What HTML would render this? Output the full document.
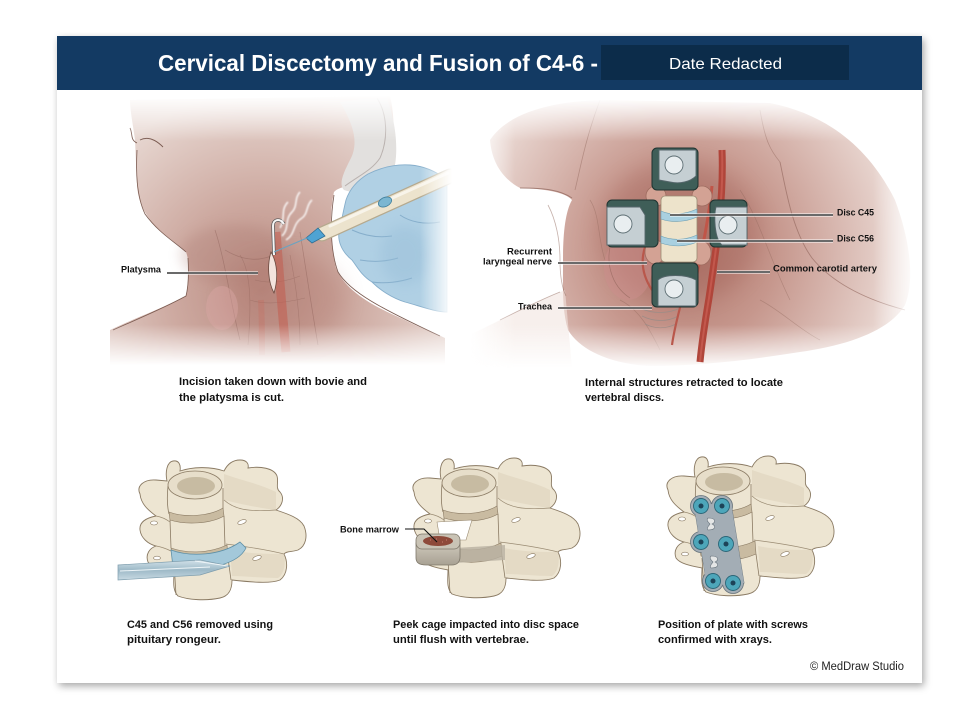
<!DOCTYPE html>
<html><head><meta charset="utf-8"><style>
html,body{margin:0;padding:0;background:#fff;}
svg{display:block;}
text{font-family:"Liberation Sans",Arial,sans-serif;}
</style></head><body>
<svg width="979" height="720" viewBox="0 0 979 720" xmlns="http://www.w3.org/2000/svg">
<defs>
 <filter id="sh" x="-5%" y="-5%" width="110%" height="112%">
  <feDropShadow dx="2" dy="3" stdDeviation="4" flood-color="#000" flood-opacity="0.35"/>
 </filter>
 <filter id="b1"><feGaussianBlur stdDeviation="0.8"/></filter>
 <filter id="b6" x="-30%" y="-30%" width="160%" height="160%"><feGaussianBlur stdDeviation="6"/></filter>
 <filter id="b10" x="-40%" y="-40%" width="180%" height="180%"><feGaussianBlur stdDeviation="10"/></filter>
 <radialGradient id="sk1" gradientUnits="userSpaceOnUse" cx="262" cy="290" r="200">
  <stop offset="0" stop-color="#B98A80"/>
  <stop offset="0.45" stop-color="#CDA9A0"/>
  <stop offset="1" stop-color="#E7D7D1"/>
 </radialGradient>
 <radialGradient id="sk2" gradientUnits="userSpaceOnUse" cx="685" cy="250" r="230">
  <stop offset="0" stop-color="#AD7266"/>
  <stop offset="0.4" stop-color="#C6978D"/>
  <stop offset="1" stop-color="#EEE0DB"/>
 </radialGradient>
 <linearGradient id="fv1" gradientUnits="userSpaceOnUse" x1="0" y1="95" x2="0" y2="365">
  <stop offset="0" stop-color="#000"/><stop offset="0.17" stop-color="#fff"/>
  <stop offset="0.85" stop-color="#fff"/><stop offset="1" stop-color="#000"/>
 </linearGradient>
 <linearGradient id="fv2" gradientUnits="userSpaceOnUse" x1="0" y1="98" x2="0" y2="368">
  <stop offset="0" stop-color="#000"/><stop offset="0.16" stop-color="#fff"/>
  <stop offset="0.84" stop-color="#fff"/><stop offset="1" stop-color="#000"/>
 </linearGradient>
 <linearGradient id="fh1" gradientUnits="userSpaceOnUse" x1="420" y1="0" x2="452" y2="0">
  <stop offset="0" stop-color="#fff"/><stop offset="1" stop-color="#000"/>
 </linearGradient>
 <linearGradient id="fh2" gradientUnits="userSpaceOnUse" x1="470" y1="0" x2="918" y2="0">
  <stop offset="0" stop-color="#000"/><stop offset="0.1" stop-color="#fff"/>
  <stop offset="0.9" stop-color="#fff"/><stop offset="1" stop-color="#000"/>
 </linearGradient>
 <mask id="m1" maskUnits="userSpaceOnUse" x="90" y="90" width="380" height="290">
  <rect x="90" y="90" width="380" height="290" fill="url(#fv1)"/>
 </mask>
 <mask id="m2" maskUnits="userSpaceOnUse" x="460" y="90" width="470" height="290">
  <rect x="460" y="90" width="470" height="290" fill="url(#fv2)"/>
 </mask>
 <mask id="m2h" maskUnits="userSpaceOnUse" x="460" y="90" width="470" height="290">
  <rect x="460" y="90" width="470" height="290" fill="url(#fh2)"/>
 </mask>
 <mask id="mg" maskUnits="userSpaceOnUse" x="300" y="150" width="160" height="180">
  <rect x="300" y="150" width="160" height="180" fill="url(#fh1)"/>
 </mask>
 <linearGradient id="tool" x1="0" y1="0" x2="0" y2="1">
  <stop offset="0" stop-color="#D4E3EA"/><stop offset="0.5" stop-color="#9DB9C7"/><stop offset="1" stop-color="#C8DAE3"/>
 </linearGradient>
 <linearGradient id="cageside" x1="0" y1="0" x2="0" y2="1">
  <stop offset="0" stop-color="#CFC9BC"/><stop offset="1" stop-color="#A8A193"/>
 </linearGradient>

 <g id="vert">
  <path d="M30,44 C26,36 34,29 46,30 L57,31 C55,22 57,12 63,11 C69,10 71,15 70,21 C82,17 100,16 114,21 C118,13 124,10 130,10 C137,10 139,14 138,18 C150,16 164,18 167,26 C169,32 165,38 170,42 C175,48 172,56 166,60 C178,64 190,68 194,76 C198,86 196,96 188,100 C182,102 176,101 174,104 C178,112 178,124 170,130 C160,134 140,132 122,130 C122,138 120,146 110,148 C96,151 78,150 68,146 C62,140 64,130 64,122 C54,120 42,118 38,112 C35,104 40,98 46,96 C38,94 31,88 30,80 C29,72 36,68 46,66 C38,60 31,54 30,44 Z" fill="#EDE5D2" stroke="#8A7A63" stroke-width="0.9"/>
  <path d="M114,24 C130,30 150,34 166,42 L166,60 C150,58 130,54 114,50 Z" fill="#E0D5BF" opacity="0.7"/>
  <path d="M120,100 C140,104 160,104 174,104 C176,114 174,124 168,128 C150,128 135,126 122,126 Z" fill="#E0D5BF" opacity="0.7"/>
  <ellipse cx="85" cy="35" rx="27" ry="14" fill="#E7DECA" stroke="#8A7A63" stroke-width="0.8"/>
  <ellipse cx="86" cy="36" rx="19" ry="9" fill="#C7BBA2"/>
  <path d="M58,36 C57,46 57,56 59,64 M113,38 L113,60" fill="none" stroke="#8A7A63" stroke-width="0.8"/>
  <path d="M59,62 C75,68 100,66 113,58 L114,66 C100,74 76,75 60,70 Z" fill="#C9BBA1" stroke="#8A7A63" stroke-width="0.6"/>
  <path d="M60,70 L61,98 M114,66 L115,96" fill="none" stroke="#8A7A63" stroke-width="0.8"/>
  <path d="M61,98 C78,104 100,103 117,95 L118,108 C100,116 78,116 63,110 Z" fill="#C9BBA1" stroke="#8A7A63" stroke-width="0.6"/>
  <path d="M64,112 L66,145 M118,108 L121,130" fill="none" stroke="#8A7A63" stroke-width="0.8"/>
  <path d="M46,66 C52,67 56,69 60,72 M46,96 C52,97 57,99 61,101 M114,50 C125,60 140,62 166,60 M116,94 C130,96 150,98 174,104" fill="none" stroke="#9A8B73" stroke-width="0.7"/>
  <ellipse cx="132" cy="72" rx="4.5" ry="2" transform="rotate(-20 132 72)" fill="#fff" stroke="#8A7A63" stroke-width="0.6"/>
  <ellipse cx="147" cy="108" rx="4.5" ry="2" transform="rotate(-20 147 108)" fill="#fff" stroke="#8A7A63" stroke-width="0.6"/>
  <ellipse cx="44" cy="73" rx="3.5" ry="2" fill="#fff" stroke="#8A7A63" stroke-width="0.6"/>
  <ellipse cx="47" cy="108" rx="3.5" ry="1.8" fill="#fff" stroke="#8A7A63" stroke-width="0.6"/>
 </g>
</defs>

<!-- card -->
<rect x="57" y="36" width="865" height="647" fill="#fff" filter="url(#sh)"/>
<rect x="57" y="36" width="865" height="54" fill="#133A63"/>
<rect x="601" y="45" width="248" height="35" fill="#0C2C4A"/>
<text x="158" y="71" font-size="23" font-weight="bold" fill="#fff" textLength="440" lengthAdjust="spacingAndGlyphs">Cervical Discectomy and Fusion of C4-6 -</text>
<text x="669" y="69" font-size="16" fill="#fff" textLength="113" lengthAdjust="spacingAndGlyphs">Date Redacted</text>

<!-- ============ PANEL 1 ============ -->
<g mask="url(#m1)">
 <path d="M130,100 L390,96 C396,120 394,150 386,175 C360,185 340,185 334,192 C330,210 329,240 336,268 C345,290 370,305 405,320 C420,328 435,333 445,338 L445,368 L110,368 L110,330 C140,316 170,305 186,296 C189,280 190,262 186,252 C178,244 165,236 155,226 C143,212 138,200 137,185 L135,140 C133,125 130,110 130,100 Z" fill="url(#sk1)"/>
 <ellipse cx="235" cy="255" rx="55" ry="30" fill="#A5736A" opacity="0.25" filter="url(#b6)"/>
 <ellipse cx="285" cy="300" rx="60" ry="45" fill="#AD7268" opacity="0.25" filter="url(#b10)"/>
 <path d="M340,102 C352,122 360,142 350,160 C344,172 338,184 344,190 C360,196 386,190 392,176 C400,156 396,120 386,96 Z" fill="#E2E0DE"/>
 <path d="M377,98 C388,115 388,140 380,158 C372,170 360,175 345,186" fill="none" stroke="#B9B1AE" stroke-width="1"/>
 <path d="M130,128 C133,134 130,140 137,143 M140,140 C148,136 156,140 163,147" fill="none" stroke="#7A5A50" stroke-width="0.9"/>
 <path d="M137,150 C136,170 136,195 145,214 C158,232 172,240 186,252" fill="none" stroke="#7A5A50" stroke-width="0.8"/>
 <path d="M188,258 C189,275 188,288 186,296 C160,310 135,320 113,330" fill="none" stroke="#7A5A50" stroke-width="0.8"/>
 <path d="M334,195 C330,220 330,250 338,272 C350,292 380,308 440,336" fill="none" stroke="#7A5A50" stroke-width="0.8"/>
 <path d="M215,230 C225,260 230,300 240,340 M300,232 C306,270 312,310 318,345 M225,250 C245,262 262,262 280,252" fill="none" stroke="#8D6259" stroke-width="0.7" opacity="0.5"/>
 <path d="M240,255 C250,270 252,300 248,345 M290,255 C296,285 300,315 300,345 M255,280 C270,284 285,282 300,276 M250,300 C265,305 285,303 305,298" fill="none" stroke="#8D6259" stroke-width="0.6" opacity="0.45"/>
 <ellipse cx="222" cy="308" rx="16" ry="22" fill="#D9A6A3" opacity="0.45"/>
 <path d="M276,232 C279,270 282,310 286,352" fill="none" stroke="#C4584A" stroke-width="9" opacity="0.5"/>
 <path d="M261,300 C262,320 262,340 262,355" fill="none" stroke="#C86A5C" stroke-width="6" opacity="0.3"/>
</g>
<!-- incision -->
<path d="M271,252 C267,265 268,282 274,293 C278,280 278,264 271,252 Z" fill="#F3E3DD" stroke="#6B4A40" stroke-width="0.8"/>
<!-- wire -->
<path d="M274,255 L273,226 C273,219 280,218 284,224" fill="none" stroke="#555" stroke-width="3.4"/>
<path d="M274,255 L273,226 C273,219 280,218 284,224" fill="none" stroke="#F5F5F5" stroke-width="2"/>
<!-- smoke -->
<g fill="none" stroke="#fff" stroke-width="1.6" opacity="0.85" filter="url(#b1)">
 <path d="M282,236 C290,228 284,220 292,212 C298,206 294,198 300,192"/>
 <path d="M286,240 C296,234 292,224 302,218 C308,214 306,205 312,200"/>
 <path d="M280,228 C286,218 280,210 288,202"/>
</g>
<!-- glove & pen -->
<g mask="url(#mg)">
 <path d="M346,200 C350,188 358,180 368,174 C380,168 395,164 410,165 C425,166 437,172 447,180 L447,312 C435,312 420,306 405,302 C392,298 380,290 372,282 C362,276 358,268 352,260 C342,252 336,240 340,228 C342,218 344,208 346,200 Z" fill="#B0D0E4" stroke="#86AECB" stroke-width="0.9"/>
 <path d="M352,230 C365,236 378,238 392,236 M360,260 C372,262 385,262 398,258 M372,282 C385,284 400,282 412,278 M400,215 C410,222 425,225 440,222" fill="none" stroke="#86AECB" stroke-width="1"/>
 <ellipse cx="405" cy="255" rx="25" ry="30" fill="#98BED8" opacity="0.45" filter="url(#b6)"/>
 <path d="M322,234 L450,176" stroke="#B5A98E" stroke-width="15" stroke-linecap="round"/>
 <path d="M322,234 L450,176" stroke="#ECE3CD" stroke-width="12.5" stroke-linecap="round"/>
 <path d="M330,226 L448,173" stroke="#F8F4EA" stroke-width="3" stroke-linecap="round"/>
</g>
<ellipse cx="385" cy="202" rx="7" ry="4.5" transform="rotate(-25 385 202)" fill="#7BB6D1" stroke="#3E7E9B" stroke-width="0.8"/>
<path d="M306,238 L318,228 L325,236 L312,243 Z" fill="#4FA3D3" stroke="#2E6D92" stroke-width="0.8"/>
<path d="M307,238 L274,252" stroke="#6BA3C0" stroke-width="1.2"/>
<!-- label -->
<path d="M167,273 L258,273" stroke="#fff" stroke-width="3"/>
<path d="M167,273 L258,273" stroke="#111" stroke-width="1.2"/>
<text x="121" y="272.5" font-size="9.5" font-weight="bold" fill="#111" textLength="40" lengthAdjust="spacingAndGlyphs">Platysma</text>

<text x="179" y="385" font-size="11" font-weight="bold" fill="#111" textLength="188" lengthAdjust="spacingAndGlyphs">Incision taken down with bovie and</text>
<text x="179" y="401" font-size="11" font-weight="bold" fill="#111" textLength="105" lengthAdjust="spacingAndGlyphs">the platysma is cut.</text>

<!-- ============ PANEL 2 ============ -->
<g mask="url(#m2)">
<g mask="url(#m2h)">
 <path d="M490,140 C510,110 560,100 610,100 L770,103 C830,115 870,150 895,200 C910,240 915,280 905,305 C890,330 850,345 800,352 C750,360 700,366 650,366 C610,364 580,350 568,330 C562,310 563,290 563,260 C563,235 565,212 572,200 C565,192 545,189 520,188 C505,180 492,165 490,140 Z" fill="url(#sk2)"/>
 <path d="M470,335 C500,320 540,300 565,290 L572,368 L470,368 Z" fill="#F1E4E0" opacity="0.6"/>
 <ellipse cx="680" cy="232" rx="80" ry="70" fill="#9E5C52" opacity="0.3" filter="url(#b10)"/>
 <path d="M520,188 C545,188 560,190 572,198" fill="none" stroke="#8D6358" stroke-width="0.9" opacity="0.7"/>
 <path d="M548,205 C556,220 560,240 560,260 C560,275 562,288 566,296 M560,292 C540,300 520,310 500,320" fill="none" stroke="#8D6358" stroke-width="0.8" opacity="0.5"/>
 <path d="M780,162 C786,190 792,230 812,258 C830,280 860,298 905,310" fill="none" stroke="#8D6358" stroke-width="0.9" opacity="0.6"/>
 <path d="M600,100 C585,140 580,170 575,190 M760,110 C765,140 770,150 780,162" fill="none" stroke="#8D6358" stroke-width="0.8" opacity="0.45"/>
 <path d="M590,200 C600,215 598,240 605,260 M740,190 C760,220 770,260 790,300 M760,300 C780,310 800,330 820,340 M620,300 C640,310 650,330 660,350" fill="none" stroke="#8D6358" stroke-width="0.7" opacity="0.4"/>
</g>
</g>
<ellipse cx="628" cy="268" rx="24" ry="32" fill="#CC8E8C" opacity="0.5"/>
<path d="M612,240 C605,260 610,285 630,298" fill="none" stroke="#8D6358" stroke-width="0.7" opacity="0.6"/>
<!-- trachea rings -->
<path d="M640,308 C652,314 668,314 680,308 M642,316 C654,322 668,322 678,316 M645,324 C655,329 666,329 676,324" fill="none" stroke="#9E8C86" stroke-width="0.8"/>
<!-- artery -->
<path d="M722,150 C724,200 716,250 709,298 C705,322 702,340 700,362" fill="none" stroke="#B0453A" stroke-width="7"/>
<path d="M722,150 C724,200 716,250 709,298 C705,322 702,340 700,362" fill="none" stroke="#D0665A" stroke-width="2" opacity="0.6"/>
<path d="M712,186 C708,226 700,258 692,298" fill="none" stroke="#C05548" stroke-width="3"/>
<path d="M646,244 C640,260 642,275 652,290" fill="none" stroke="#B9574B" stroke-width="2.2"/>
<path d="M682,300 C678,315 674,330 672,345" fill="none" stroke="#B9574B" stroke-width="2.2"/>
<!-- muscle bulbs -->
<g fill="#D3A294" stroke="#9E6C60" stroke-width="0.8">
 <ellipse cx="656" cy="196" rx="10" ry="10"/>
 <ellipse cx="702" cy="196" rx="10" ry="10"/>
 <ellipse cx="655" cy="252" rx="10" ry="12"/>
 <ellipse cx="701" cy="253" rx="10" ry="12"/>
</g>
<!-- center disc stack -->
<rect x="661" y="196" width="36" height="66" rx="4" fill="#EDE3CB" stroke="#9A8B73" stroke-width="0.8"/>
<path d="M661,211 C672,216 686,214 697,209 L697,217 C686,222 672,223 661,219 Z" fill="#A9D0E0" stroke="#6E9FB3" stroke-width="0.6"/>
<path d="M661,236 C672,241 686,240 697,235 L697,242 C686,247 672,247 661,243 Z" fill="#A9D0E0" stroke="#6E9FB3" stroke-width="0.6"/>
<!-- retractors -->
<g stroke="#1F3330" stroke-width="1">
 <rect x="652" y="148" width="46" height="42" rx="5" fill="#3F5E58"/>
 <rect x="607" y="200" width="51" height="47" rx="5" fill="#3F5E58"/>
 <rect x="710" y="200" width="37" height="47" rx="5" fill="#3F5E58"/>
 <rect x="652" y="263" width="46" height="44" rx="5" fill="#3F5E58"/>
</g>
<g fill="#C5CFD3" stroke="#56666B" stroke-width="0.9">
 <path d="M659,150 L696,150 L696,176 C690,182 680,184 670,182 L659,180 Z"/>
 <path d="M607,207 L640,207 L645,215 L645,245 L607,245 Z"/>
 <path d="M716,207 L747,207 L747,245 L722,245 C714,238 714,215 716,207 Z"/>
 <path d="M658,280 C664,274 686,274 696,280 L696,306 L658,306 Z"/>
</g>
<g fill="#E9EEF0" stroke="#5D6E73" stroke-width="0.9">
 <circle cx="674" cy="165" r="9"/>
 <circle cx="623" cy="224" r="9"/>
 <circle cx="728" cy="225" r="9"/>
 <circle cx="674" cy="289" r="9"/>
</g>
<!-- labels panel2 -->
<g stroke="#fff" stroke-width="3">
 <path d="M670,215 L833,215 M677,241 L833,241 M558,263 L647,263 M717,272 L770,272 M558,308 L652,308"/>
</g>
<g stroke="#111" stroke-width="1.2">
 <path d="M670,215 L833,215 M677,241 L833,241 M558,263 L647,263 M717,272 L770,272 M558,308 L652,308"/>
</g>
<g font-size="9.5" font-weight="bold" fill="#111">
 <text x="837" y="215.5" textLength="37" lengthAdjust="spacingAndGlyphs">Disc C45</text>
 <text x="837" y="241.5" textLength="37" lengthAdjust="spacingAndGlyphs">Disc C56</text>
 <text x="507" y="254.5" textLength="45" lengthAdjust="spacingAndGlyphs">Recurrent</text>
 <text x="483" y="264.5" textLength="69" lengthAdjust="spacingAndGlyphs">laryngeal nerve</text>
 <text x="773" y="271.5" textLength="104" lengthAdjust="spacingAndGlyphs">Common carotid artery</text>
 <text x="518" y="309.5" textLength="34" lengthAdjust="spacingAndGlyphs">Trachea</text>
</g>
<text x="585" y="386" font-size="11" font-weight="bold" fill="#111" textLength="198" lengthAdjust="spacingAndGlyphs">Internal structures retracted to locate</text>
<text x="585" y="401" font-size="11" font-weight="bold" fill="#111" textLength="79" lengthAdjust="spacingAndGlyphs">vertebral discs.</text>

<!-- ============ BOTTOM LEFT ============ -->
<use href="#vert" transform="translate(110,450)"/>
<path d="M171,550 C190,557 220,556 240,542 L246,548 C238,564 208,572 173,567 Z" fill="#A3C8DA" stroke="#5E8FA6" stroke-width="0.8"/>
<path d="M118,565 L200,560 L230,566 L200,575 L118,580 Z" fill="url(#tool)" stroke="#7F9EAE" stroke-width="0.7"/>
<path d="M120,571 L210,567 M195,561 L228,566" stroke="#EEF5F8" stroke-width="1" fill="none"/>
<text x="127" y="628" font-size="11" font-weight="bold" fill="#111" textLength="146" lengthAdjust="spacingAndGlyphs">C45 and C56 removed using</text>
<text x="127" y="643" font-size="11" font-weight="bold" fill="#111" textLength="94" lengthAdjust="spacingAndGlyphs">pituitary rongeur.</text>

<!-- ============ BOTTOM MIDDLE ============ -->
<use href="#vert" transform="translate(384,448)"/>
<path d="M437,522 L472,520 L466,540 L440,540 Z" fill="#fff" stroke="#9A8B73" stroke-width="0.6"/>
<path d="M455,548 L505,545 L505,560 L455,563 Z" fill="#B8B0A1" opacity="0.8"/>
<path d="M416,543 L416,558 C416,563 420,565 426,565 L452,565 C457,565 460,562 460,557 L460,543 Z" fill="url(#cageside)" stroke="#7E776A" stroke-width="0.8"/>
<rect x="416" y="534" width="44" height="15" rx="6" fill="#C9C3B5" stroke="#7E776A" stroke-width="0.8"/>
<ellipse cx="438" cy="541" rx="15" ry="5" fill="#8E4A3A"/>
<path d="M430,540 l1,0 M436,539 l1,0 M442,542 l1,0 M446,540 l1,0" stroke="#C88070" stroke-width="1"/>
<path d="M405,529 L424,529 L437,542" fill="none" stroke="#111" stroke-width="1.1"/>
<text x="340" y="532.5" font-size="9.5" font-weight="bold" fill="#111" textLength="59" lengthAdjust="spacingAndGlyphs">Bone marrow</text>
<text x="393" y="628" font-size="11" font-weight="bold" fill="#111" textLength="186" lengthAdjust="spacingAndGlyphs">Peek cage impacted into disc space</text>
<text x="393" y="643" font-size="11" font-weight="bold" fill="#111" textLength="136" lengthAdjust="spacingAndGlyphs">until flush with vertebrae.</text>

<!-- ============ BOTTOM RIGHT ============ -->
<use href="#vert" transform="translate(638,446)"/>
<g fill="#A3ADB5" stroke="#66727B" stroke-width="0.8">
 <path d="M694,505 L731,503 L744,583 L707,586 Z"/>
 <circle cx="701" cy="506" r="10.5"/><circle cx="722" cy="506" r="10.5"/>
 <circle cx="701" cy="542" r="10.5"/><circle cx="726" cy="544" r="10.5"/>
 <circle cx="713" cy="581" r="10.5"/><circle cx="733" cy="583" r="10.5"/>
</g>
<path d="M694,505 L731,503 L744,583 L707,586 Z" fill="#A3ADB5"/>
<path d="M708,518 C716,518 716,522 712,524 C716,526 716,530 708,530 C706,527 710,525 710,524 C708,522 706,520 708,518 Z" fill="#E4E6E6" stroke="#66727B" stroke-width="0.6"/>
<path d="M711,556 C719,556 719,560 715,562 C719,564 719,568 711,568 C709,565 713,563 713,562 C711,560 709,558 711,556 Z" fill="#E4E6E6" stroke="#66727B" stroke-width="0.6"/>
<g fill="#4DA6BA" stroke="#2B6678" stroke-width="0.9">
 <circle cx="701" cy="506" r="7.5"/><circle cx="722" cy="506" r="7.5"/>
 <circle cx="701" cy="542" r="7.5"/><circle cx="726" cy="544" r="7.5"/>
 <circle cx="713" cy="581" r="7.5"/><circle cx="733" cy="583" r="7.5"/>
</g>
<g fill="#1D4358">
 <circle cx="701" cy="506" r="2.5"/><circle cx="722" cy="506" r="2.5"/>
 <circle cx="701" cy="542" r="2.5"/><circle cx="726" cy="544" r="2.5"/>
 <circle cx="713" cy="581" r="2.5"/><circle cx="733" cy="583" r="2.5"/>
</g>
<text x="658" y="628" font-size="11" font-weight="bold" fill="#111" textLength="150" lengthAdjust="spacingAndGlyphs">Position of plate with screws</text>
<text x="658" y="643" font-size="11" font-weight="bold" fill="#111" textLength="114" lengthAdjust="spacingAndGlyphs">confirmed with xrays.</text>

<text x="810" y="670" font-size="11.5" fill="#222" textLength="94" lengthAdjust="spacingAndGlyphs">© MedDraw Studio</text>
</svg>
</body></html>
